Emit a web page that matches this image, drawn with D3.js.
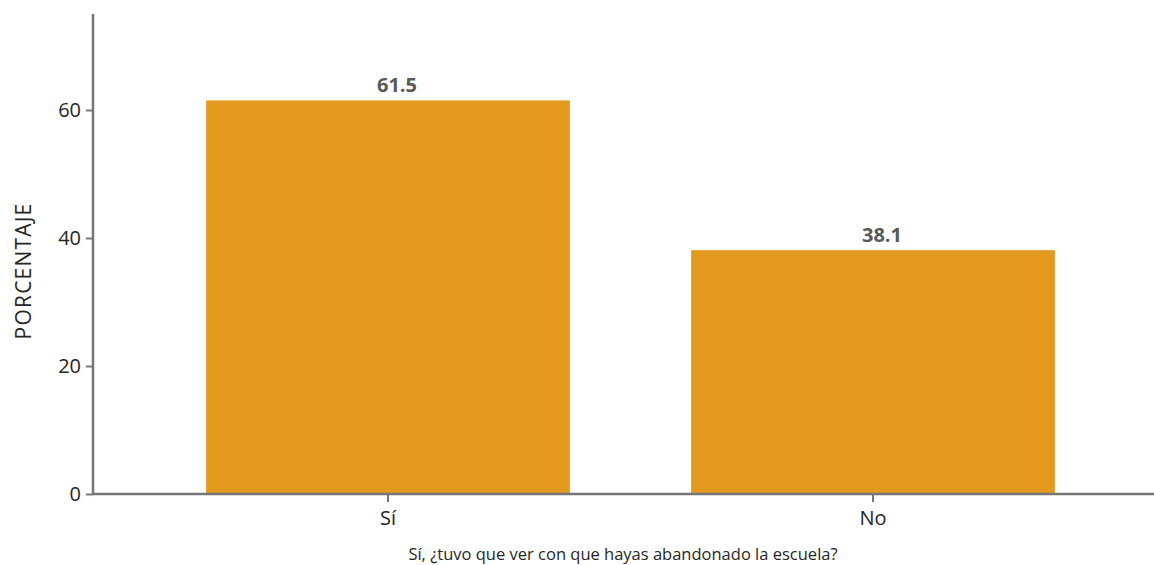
<!DOCTYPE html>
<html>
<head>
<meta charset="utf-8">
<script src="https://cdn.jsdelivr.net/npm/d3@7"></script>
<style>
  body { margin: 0; background: #fff; }
  svg text { font-family: "Open Sans", sans-serif; }
</style>
</head>
<body>
<svg id="chart" width="1154" height="565"></svg>
<script>
// Chart data
const categories = ["Sí", "No"];
const values = [61.5, 38.1];
const yTicks = [0, 20, 40, 60];
const yLabel = "PORCENTAJE";
const xLabel = "Sí, ¿tuvo que ver con que hayas abandonado la escuela?";

const svg = d3.select("#chart");
const axisColor = "#767676";
const barColor = "#E49A1F";

// Plot area (window.top is reserved, so use a margin object)
const plot = { left: 93, bottom: 494, top: 14, right: 1154 };

const y = d3.scaleLinear().domain([0, 75]).range([plot.bottom, plot.top]);
const x = d3.scaleBand()
  .domain(categories)
  .range([145.5, 1115.5])
  .paddingInner(0.25)
  .paddingOuter(0.125);

// Bars
svg.append("g")
  .selectAll("rect")
  .data(categories)
  .join("rect")
  .attr("x", d => x(d))
  .attr("y", (d, i) => y(values[i]))
  .attr("width", x.bandwidth())
  .attr("height", (d, i) => y(0) - y(values[i]))
  .attr("fill", barColor);

// Value labels (sit a little right of the bar centre, like the original)
svg.append("g")
  .selectAll("text")
  .data(categories)
  .join("text")
  .attr("x", d => x(d) + x.bandwidth() / 2 + 9)
  .attr("y", (d, i) => y(values[i]) - 8)
  .attr("text-anchor", "middle")
  .attr("font-size", 20)
  .attr("font-weight", "bold")
  .attr("fill", "#595959")
  .text((d, i) => values[i].toFixed(1));

// Y axis
const yAxis = svg.append("g")
  .attr("transform", `translate(${plot.left},0)`)
  .call(d3.axisLeft(y).tickValues(yTicks).tickSize(7).tickPadding(5));
yAxis.select(".domain").remove();
yAxis.append("line")
  .attr("x1", 0).attr("x2", 0)
  .attr("y1", plot.top).attr("y2", plot.bottom)
  .attr("stroke", axisColor).attr("stroke-width", 2.5);

// X axis
const xAxis = svg.append("g")
  .attr("transform", `translate(0,${plot.bottom})`)
  .call(d3.axisBottom(x).tickSize(8).tickPadding(9));
xAxis.select(".domain").remove();
xAxis.append("line")
  .attr("x1", plot.left).attr("x2", plot.right)
  .attr("y1", 0).attr("y2", 0)
  .attr("stroke", axisColor).attr("stroke-width", 2.5);

svg.selectAll(".tick line").attr("stroke", axisColor).attr("stroke-width", 2);
svg.selectAll(".tick text")
  .attr("font-size", 20)
  .attr("fill", "#262626");

// Axis titles
svg.append("text")
  .attr("transform", `translate(31,271) rotate(-90)`)
  .attr("text-anchor", "middle")
  .attr("font-size", 21)
  .attr("letter-spacing", 1.2)
  .attr("fill", "#262626")
  .text(yLabel);

svg.append("text")
  .attr("x", 623)
  .attr("y", 560)
  .attr("text-anchor", "middle")
  .attr("font-size", 16.5)
  .attr("fill", "#262626")
  .text(xLabel);
</script>
</body>
</html>
